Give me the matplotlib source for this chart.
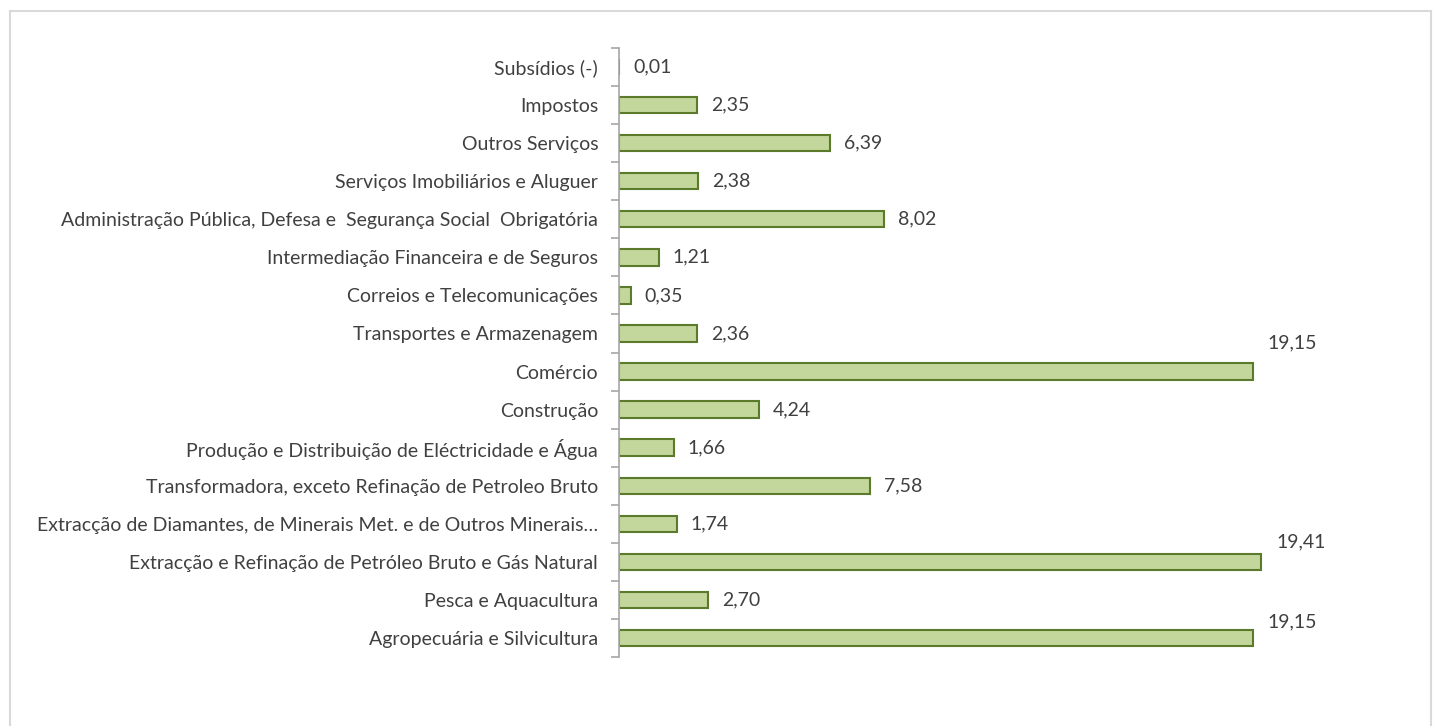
import matplotlib
matplotlib.use("Agg")
import matplotlib.pyplot as plt
from matplotlib.lines import Line2D

categories = [
    "Agropecuária e Silvicultura",
    "Pesca e Aquacultura",
    "Extracção e Refinação de Petróleo Bruto e Gás Natural",
    "Extracção de Diamantes, de Minerais Met. e de Outros Minerais…",
    "Transformadora, exceto Refinação de Petroleo Bruto",
    "Produção e Distribuição de Eléctricidade e Água",
    "Construção",
    "Comércio",
    "Transportes e Armazenagem",
    "Correios e Telecomunicações",
    "Intermediação Financeira e de Seguros",
    "Administração Pública, Defesa e  Segurança Social  Obrigatória",
    "Serviços Imobiliários e Aluguer",
    "Outros Serviços",
    "Impostos",
    "Subsídios (-)",
]
values = [19.15, 2.70, 19.41, 1.74, 7.58, 1.66, 4.24, 19.15, 2.36, 0.35,
          1.21, 8.02, 2.38, 6.39, 2.35, 0.01]

# vertical lift of labels placed above long bars (category index -> offset)
label_lift = {0: 0.42, 2: 0.53, 7: 0.76}

FONT = ["Lato", "DejaVu Sans"]
TXT = "#404040"
FS = 14
W, H = 1437, 726
fig = plt.figure(figsize=(W / 100, H / 100), dpi=100)
fig.patch.set_facecolor("white")

# outer frame (left, top, right)
fc = "#d9d9d9"
fig.add_artist(Line2D([9.5 / W, 9.5 / W], [0, 1 - 10.5 / H], color=fc, lw=1.5, transform=fig.transFigure))
fig.add_artist(Line2D([9.5 / W, 1430.5 / W], [1 - 10.5 / H, 1 - 10.5 / H], color=fc, lw=1.5, transform=fig.transFigure))
fig.add_artist(Line2D([1430.5 / W, 1430.5 / W], [0, 1 - 10.5 / H], color=fc, lw=1.5, transform=fig.transFigure))

x0, x1 = 619, 1314
ytop, ybot = 48, 657
ax = fig.add_axes([x0 / W, 1 - ybot / H, (x1 - x0) / W, (ybot - ytop) / H])
n = len(categories)
ypos = list(range(n))
ax.barh(ypos, values, height=0.43, color="#c3d69b", edgecolor="#5b7a2b", linewidth=1.5)
ax.set_xlim(0, 21)
ax.set_ylim(-0.5, n - 0.5)

for s in ["top", "right", "bottom"]:
    ax.spines[s].set_visible(False)
ax.spines["left"].set_color("#a6a6a6")
ax.spines["left"].set_linewidth(1.2)
ax.set_xticks([])
ax.set_yticks([i - 0.5 for i in range(n + 1)])
ax.set_yticklabels([])
ax.tick_params(axis="y", length=6, color="#a6a6a6", width=1.2)
ax.set_yticks(ypos, minor=True)
ax.set_yticklabels(categories, minor=True, fontsize=FS, color=TXT, family=FONT)
ax.tick_params(axis="y", which="minor", length=0, pad=15)

for y, v in zip(ypos, values):
    lab = f"{v:.2f}".replace(".", ",")
    if y in label_lift:
        ax.text(v + 1.2, y + label_lift[y], lab, ha="center", va="center", fontsize=FS, color=TXT, family=FONT)
    else:
        ax.text(v + 0.42, y, lab, ha="left", va="center", fontsize=FS, color=TXT, family=FONT)

fig.savefig("out.png", dpi=100, facecolor="white")
